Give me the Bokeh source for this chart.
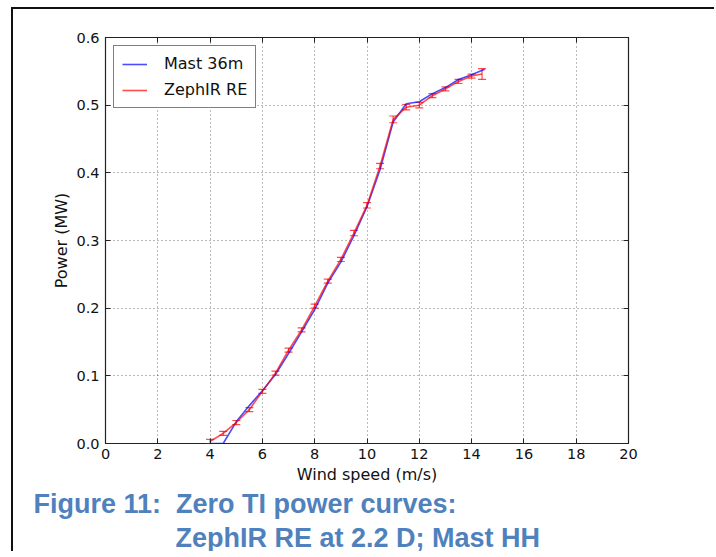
from bokeh.plotting import figure
from bokeh.models import (Range1d, FixedTicker, PrintfTickFormatter, LinearAxis,
                          Title, Legend, LegendItem, Whisker,
                          TeeHead, ColumnDataSource)
from bokeh.embed import file_html
from bokeh.resources import INLINE

# ---- data ----
wind_mast = [4.0, 4.5, 5.0, 5.5, 6.0, 6.5, 7.0, 7.5, 8.0, 8.5, 9.0, 9.5, 10.0,
             10.5, 11.0, 11.5, 12.0, 12.5, 13.0, 13.5, 14.0, 14.5]
power_mast = [0.000, 0.000, 0.032, 0.056, 0.078, 0.102, 0.133, 0.165, 0.198,
              0.237, 0.268, 0.307, 0.350, 0.405, 0.475, 0.502, 0.505, 0.517,
              0.526, 0.538, 0.545, 0.553]

wind_zephir = [4.0, 4.5, 5.0, 5.5, 6.0, 6.5, 7.0, 7.5, 8.0, 8.5, 9.0, 9.5, 10.0,
               10.5, 11.0, 11.5, 12.0, 12.5, 13.0, 13.5, 14.0, 14.4]
power_zephir = [0.003, 0.015, 0.031, 0.050, 0.077, 0.104, 0.138, 0.168, 0.203,
                0.240, 0.272, 0.311, 0.352, 0.410, 0.479, 0.497, 0.500, 0.514,
                0.524, 0.535, 0.543, 0.546]
err_zephir = [0.003, 0.003, 0.003, 0.003, 0.003, 0.003, 0.003, 0.003, 0.003,
              0.003, 0.003, 0.004, 0.004, 0.004, 0.005, 0.004, 0.004, 0.003,
              0.003, 0.003, 0.003, 0.008]

x_ticks = [0, 2, 4, 6, 8, 10, 12, 14, 16, 18, 20]
y_ticks = [0.0, 0.1, 0.2, 0.3, 0.4, 0.5, 0.6]

x_label = "Wind speed (m/s)"
y_label = "Power (MW)"
caption_1 = "Figure 11:\u00a0 Zero TI power curves:"
caption_2 = "ZephIR RE at 2.2 D; Mast HH"

FONT = "DejaVu Sans"

p = figure(width=703, height=544, output_backend="svg", toolbar_location=None,
           x_range=Range1d(0, 20), y_range=Range1d(0, 0.6),
           min_border_left=92, min_border_right=88, min_border_top=28,
           min_border_bottom=110)
p.styles = {"border-left": "2px solid #111111", "border-top": "2px solid #111111",
            "margin-left": "11px", "margin-top": "7px"}
p.background_fill_color = "white"
p.border_fill_color = "white"
p.outline_line_color = "#222222"
p.outline_line_width = 1.2

# main axes
for ax, ticks in ((p.xaxis[0], x_ticks), (p.yaxis[0], y_ticks)):
    ax.ticker = FixedTicker(ticks=ticks)
    ax.axis_line_color = None
    ax.major_tick_in = 5
    ax.major_tick_out = 0
    ax.major_tick_line_color = "#222222"
    ax.minor_tick_line_color = None
    ax.major_label_text_font = FONT
    ax.major_label_text_font_size = "14.5px"
    ax.major_label_text_color = "#111111"
    ax.axis_label_text_font = FONT
    ax.axis_label_text_font_size = "16px"
    ax.axis_label_text_font_style = "normal"
    ax.axis_label_text_color = "#111111"

p.xaxis[0].axis_label = x_label
p.yaxis[0].axis_label = y_label
p.yaxis[0].formatter = PrintfTickFormatter(format="%.1f")
p.xaxis[0].major_label_standoff = 5
p.yaxis[0].major_label_standoff = 6
p.xaxis[0].axis_label_standoff = 3
p.yaxis[0].axis_label_standoff = 2

# mirrored ticks (top, right)
for side, ticks in (("above", x_ticks), ("right", y_ticks)):
    ax = LinearAxis(ticker=FixedTicker(ticks=ticks), axis_line_color=None,
                    major_tick_in=5, major_tick_out=0,
                    major_tick_line_color="#222222",
                    minor_tick_line_color=None, major_label_text_color=None)
    p.add_layout(ax, side)

# grid
for g, ticks in ((p.xgrid[0], x_ticks), (p.ygrid[0], y_ticks)):
    g.ticker = FixedTicker(ticks=ticks)
    g.grid_line_color = "black"
    g.grid_line_alpha = 0.55
    g.grid_line_dash = "1 3"
    g.grid_line_width = 1

# data
blue = p.line(wind_mast, power_mast, line_color="blue", line_alpha=0.7,
              line_width=1.6)
red = p.line(wind_zephir, power_zephir, line_color="red", line_alpha=0.7,
             line_width=1.6)
src = ColumnDataSource(dict(
    x=wind_zephir,
    upper=[v + e for v, e in zip(power_zephir, err_zephir)],
    lower=[v - e for v, e in zip(power_zephir, err_zephir)],
))
wh = Whisker(base="x", upper="upper", lower="lower", source=src,
             line_color="red", line_alpha=0.7, line_width=1.2,
             upper_head=TeeHead(size=8, line_color="red", line_alpha=0.7,
                                line_width=1.2),
             lower_head=TeeHead(size=8, line_color="red", line_alpha=0.7,
                                line_width=1.2))
p.add_layout(wh)

legend = Legend(items=[LegendItem(label="Mast 36m", renderers=[blue]),
                       LegendItem(label="ZephIR RE", renderers=[red])],
                location="top_left", margin=8, padding=8, spacing=7,
                glyph_width=25, glyph_height=16, label_height=16,
                label_standoff=17, label_text_font=FONT,
                label_text_font_size="16px", label_text_color="#111111",
                border_line_color="black", border_line_width=1,
                background_fill_color="white", background_fill_alpha=1)
p.add_layout(legend)

# caption
for txt, off, so in ((caption_1, -72, 1), (caption_2, 70, 2)):
    t = Title(text=txt, align="left", offset=off, text_font="Liberation Sans",
              text_font_size="27px", text_font_style="bold",
              text_color="#4F81BD", standoff=so)
    p.add_layout(t, "below")

open("out.html", "w").write(file_html(p, INLINE))
